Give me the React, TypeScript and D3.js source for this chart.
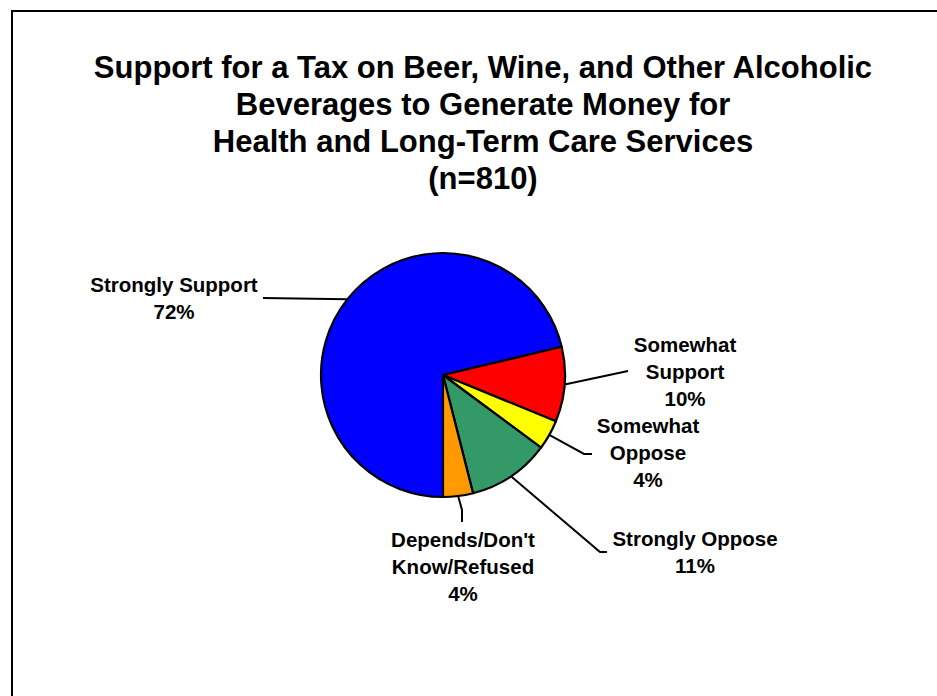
import React from "react";
import * as d3 from "d3";

const categories = [
  "Strongly Support",
  "Somewhat Support",
  "Somewhat Oppose",
  "Strongly Oppose",
  "Depends/Don't Know/Refused",
];
const values = [72, 10, 4, 11, 4];
const colors = ["#0000FF", "#FF0000", "#FFFF00", "#339966", "#FF9900"];
const labelLines = [
  ["Strongly Support", "72%"],
  ["Somewhat", "Support", "10%"],
  ["Somewhat", "Oppose", "4%"],
  ["Strongly Oppose", "11%"],
  ["Depends/Don't", "Know/Refused", "4%"],
];
const titleLines = [
  "Support for a Tax on Beer, Wine, and Other Alcoholic",
  "Beverages to Generate Money for",
  "Health and Long-Term Care Services",
  "(n=810)",
];

// layout (not data)
const W = 937;
const H = 696;
const cx = 443;
const cy = 375;
const R = 122;
const labelLayout = [
  { x: 174, y: 292, leader: [[263, 298]] },
  { x: 685, y: 352, leader: [[628, 371]] },
  { x: 648, y: 433, leader: [[584, 454], [592, 454]] },
  { x: 695, y: 546, leader: [[600, 552], [607, 552]] },
  { x: 463, y: 547, leader: [[462, 510], [462, 522]] },
];

export default function App() {
  const data = categories.map((c, i) => ({ c, v: values[i], i }));
  const pie = d3
    .pie<any>()
    .value((d) => d.v)
    .sort(null)
    .startAngle(Math.PI)
    .endAngle(3 * Math.PI);
  const arcs = pie(data);
  const arc = d3.arc<any>().innerRadius(0).outerRadius(R);
  const font = "'Liberation Sans', Arial, sans-serif";
  const line = d3.line();

  return (
    <svg
      width={W}
      height={H}
      style={{ position: "absolute", left: 0, top: 0, background: "#fff" }}
    >
      <rect x={12} y={11} width={W + 20} height={H + 20} fill="#fff" stroke="#000" strokeWidth={2} />
      <g fontFamily={font} fontWeight="bold" fontSize={31} textAnchor="middle" fill="#000">
        {titleLines.map((t, i) => (
          <text key={i} x={483} y={78 + i * 37}>
            {t}
          </text>
        ))}
      </g>
      <g transform={`translate(${cx},${cy})`}>
        {arcs.map((a, i) => (
          <path key={i} d={arc(a) as string} fill={colors[i]} stroke="#000" strokeWidth={2.2} strokeLinejoin="round" />
        ))}
      </g>
      {arcs.map((a, i) => {
        const mid = (a.startAngle + a.endAngle) / 2;
        const p0: [number, number] = [cx + R * Math.sin(mid), cy - R * Math.cos(mid)];
        const pts = [p0, ...(labelLayout[i].leader as [number, number][])];
        return <path key={i} d={line(pts) as string} fill="none" stroke="#000" strokeWidth={2} />;
      })}
      <g fontFamily={font} fontWeight="bold" fontSize={20.5} textAnchor="middle" fill="#000">
        {labelLines.map((ls, i) =>
          ls.map((t, j) => (
            <text key={`${i}-${j}`} x={labelLayout[i].x} y={labelLayout[i].y + j * 27}>
              {t}
            </text>
          ))
        )}
      </g>
    </svg>
  );
}
